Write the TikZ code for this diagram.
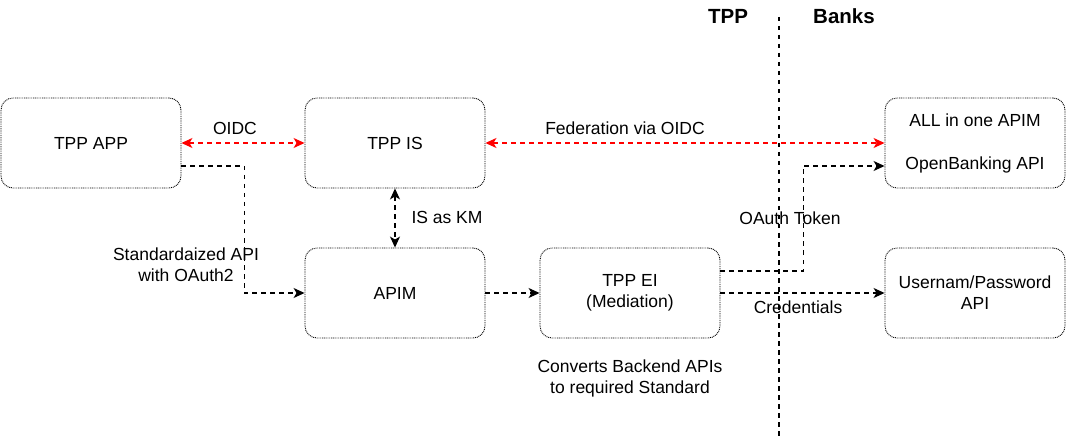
\documentclass[tikz,border=0pt]{standalone}
\usepackage{fontspec}
\setmainfont{Liberation Sans}
\usetikzlibrary{arrows.meta}
\begin{document}
\begin{tikzpicture}[x=1pt,y=-1pt,
  font=\fontsize{17.5}{21}\selectfont,
  box/.style={draw=black, line width=0.9pt, dash pattern=on 0.9pt off 0.9pt, rounded corners=12pt,
    minimum width=180pt, minimum height=90pt, align=center, inner sep=0pt},
  conn/.style={draw=black, line width=1.2pt, dash pattern=on 4.5pt off 4.5pt,
    -{Stealth[length=11pt,width=10pt,inset=3pt]}},
  redconn/.style={conn, draw=red, {Stealth[length=11pt,width=10pt,inset=3pt]}-{Stealth[length=11pt,width=10pt,inset=3pt]}},
  lbl/.style={align=center, inner sep=0pt},
  hdr/.style={font=\fontsize{20.5}{24}\selectfont\bfseries, inner sep=0pt}]
\useasboundingbox (0,0) rectangle (1067,438);

\node[box] (app) at (91,143) {TPP APP};
\node[box] (is) at (395,143) {TPP IS};
\node[box] (apim) at (395,293) {APIM};
\node[box] (ei) at (630,293) {TPP EI\\(Mediation)};
\node[box] (all) at (975,143) {ALL in one APIM\\[22pt]OpenBanking API};
\node[box] (up) at (975,293) {Usernam/Password\\API};

\node[hdr] (tpp) at (728,16) {TPP};
\node[hdr] (banks) at (844,16) {Banks};
\coordinate (divtop) at (779,17);
\coordinate (divbot) at (779,438);
\draw[line width=1.2pt, dash pattern=on 4.5pt off 4.5pt] (divtop) -- (divbot);

\draw[redconn] (app.east) -- (is.west);
\draw[redconn] (is.east) -- (all.west);
\draw[conn, {Stealth[length=11pt,width=10pt,inset=3pt]}-{Stealth[length=11pt,width=10pt,inset=3pt]}] (is.south) -- (apim.north);
\draw[conn] ([yshift=-23pt]app.east) -- ++(63,0) |- (apim.west);
\draw[conn] (apim.east) -- (ei.west);
\draw[conn] ([yshift=22pt]ei.east) -- ++(83,0) |- ([yshift=-23pt]all.west);
\draw[conn] (ei.east) -- (up.west);

\node[lbl] (loidc) at (235,128) {OIDC};
\node[lbl] (lfed) at (625,128) {Federation via OIDC};
\node[lbl] (lkm) at (447,217) {IS as KM};
\node[lbl] (lstd) at (186,265) {Standardaized API\\with OAuth2};
\node[lbl] (ltok) at (790,218) {OAuth Token};
\node[lbl] (lcred) at (798,307) {Credentials};
\node[lbl] (lconv) at (630,378) {Converts Backend APIs\\to required Standard};
\end{tikzpicture}
\end{document}
